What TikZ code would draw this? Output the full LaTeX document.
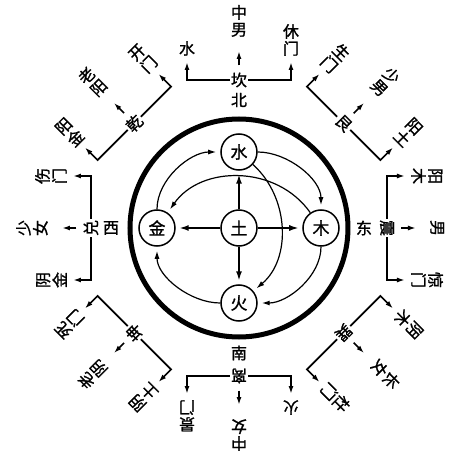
\documentclass[tikz,border=0pt]{standalone}
\usepackage{fontspec}
\setmainfont{Noto Sans CJK SC}[FakeBold=1.2]
\usetikzlibrary{arrows.meta}
\tikzset{
  tip/.style={-{Latex[length=8pt,width=5pt]}},
  trinode/.style={inner sep=1pt, font=\fontsize{16pt}{17pt}\selectfont},
  labnode/.style={inner sep=0pt, anchor=south, align=center, font=\fontsize{16pt}{17pt}\selectfont},
  dirnode/.style={inner sep=1pt, font=\fontsize{16pt}{17pt}\selectfont},
  branch/.style={tip, line width=1.7pt},
  elem/.style={circle, draw, line width=1.5pt, minimum size=36pt, inner sep=0pt, fill=white, font=\fontsize{17pt}{17pt}\selectfont},
  ring/.style={tip, line width=1.2pt, shorten >=4pt},
  center/.style={-{Latex[length=10pt,width=6pt]}, line width=2pt, shorten >=3pt}
}
\newcommand\baguagroup[6]{%
  \begin{scope}[rotate=#2, transform shape]
    \node[trinode] (#1t) at (0,148) {#3};
    \coordinate (#1l) at (-52,148);
    \coordinate (#1r) at (52,148);
    \node[labnode] (#1L) at (-52,172) {#4};
    \node[labnode] (#1R) at (52,172) {#5};
    \node[labnode] (#1M) at (0,191) {#6};
    \draw[branch, shorten >=6pt] (#1t) -- (#1l) -- (#1L);
    \draw[branch, shorten >=6pt] (#1t) -- (#1r) -- (#1R);
    \draw[branch, shorten <=6pt, shorten >=14pt] (#1t) -- (#1M);
  \end{scope}}
\begin{document}
\begin{tikzpicture}[x=1pt, y=1pt]
\useasboundingbox[fill=white] (-239,-225) rectangle (217,228);
% outer ring
\draw[line width=5pt] (0,0) circle (109pt);
% direction labels
\node[dirnode] (bei) at (0,128) {北};
\node[dirnode] (nan) at (0,-125) {南};
\node[dirnode] (xi) at (-128,0) {西};
\node[dirnode] (dong) at (125,0) {东};
% eight groups
\baguagroup{n}{0}{坎}{水}{休\\门}{中\\男}
\baguagroup{ne}{-45}{艮}{生\\门}{阳\\土}{少\\男}
\baguagroup{e}{-90}{震}{阳\\木}{惊\\门}{男}
\baguagroup{se}{-135}{巽}{阴\\木}{杜\\门}{长\\女}
\baguagroup{s}{180}{离}{火}{景\\门}{中\\女}
\baguagroup{sw}{135}{坤}{阴\\土}{死\\门}{老\\阴}
\baguagroup{w}{90}{兑}{阴\\金}{伤\\门}{少\\女}
\baguagroup{nw}{45}{乾}{阳\\金}{开\\门}{老\\阳}
% five elements
\node[elem] (tu) at (0,0) {土};
\node[elem] (shui) at (0,76) {水};
\node[elem] (huo) at (0,-75) {火};
\node[elem] (jin) at (-82,0) {金};
\node[elem] (mu) at (82,0) {木};
\draw[ring] (jin) to[out=90, in=180, looseness=0.9] (shui);
\draw[ring] (shui) to[out=0, in=90, looseness=0.9] (mu);
\draw[ring] (mu) to[out=-90, in=0, looseness=0.9] (huo);
\draw[ring] (huo) to[out=180, in=-90, looseness=0.9] (jin);
\draw[ring] (mu) to[out=125, in=55, looseness=1.05] (jin);
\draw[ring] (shui) to[out=-42, in=40, looseness=1] (huo);
\draw[center] (tu) -- (shui);
\draw[center] (tu) -- (huo);
\draw[center] (tu) -- (jin);
\draw[center] (tu) -- (mu);
\end{tikzpicture}
\end{document}
